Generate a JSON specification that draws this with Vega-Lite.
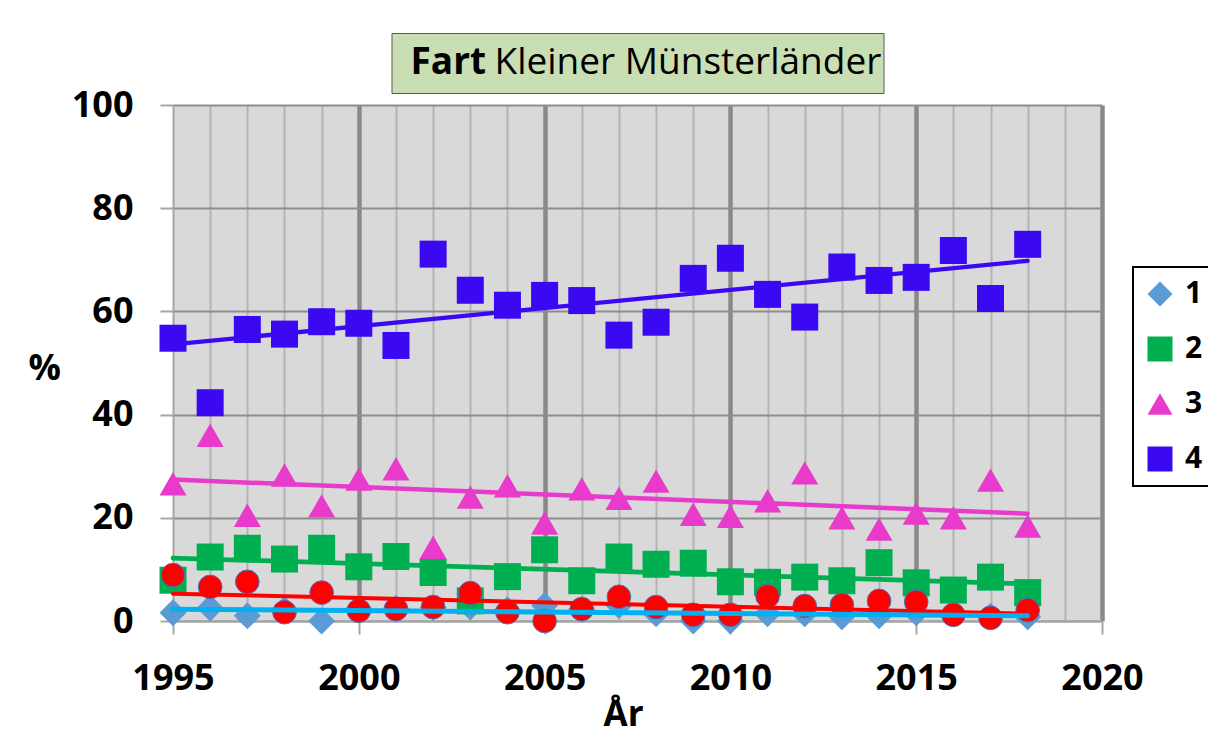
{
  "$schema": "https://vega.github.io/schema/vega-lite/v6.json",
  "background": "white",
  "padding": {"left": 28, "top": 32, "right": 0, "bottom": 0},
  "autosize": {"type": "pad"},
  "bounds": "flush",
  "spacing": 12,
  "center": true,
  "config": {"font": "Open Sans", "view": {"stroke": null}, "legend": {"strokeWidth": 2}},
  "datasets": {
    "pts": [
      {"serie": "1", "year": 1995, "v": 1.6}, {"serie": "1", "year": 1996, "v": 2.5}, {"serie": "1", "year": 1997, "v": 1.0}, {"serie": "1", "year": 1998, "v": 2.2},
      {"serie": "1", "year": 1999, "v": 0.0}, {"serie": "1", "year": 2000, "v": 2.4}, {"serie": "1", "year": 2001, "v": 2.4}, {"serie": "1", "year": 2002, "v": 2.6},
      {"serie": "1", "year": 2003, "v": 2.7}, {"serie": "1", "year": 2004, "v": 2.2}, {"serie": "1", "year": 2005, "v": 3.0}, {"serie": "1", "year": 2006, "v": 2.3},
      {"serie": "1", "year": 2007, "v": 3.0}, {"serie": "1", "year": 2008, "v": 1.4}, {"serie": "1", "year": 2009, "v": 0.0}, {"serie": "1", "year": 2010, "v": 0.0},
      {"serie": "1", "year": 2011, "v": 1.4}, {"serie": "1", "year": 2012, "v": 1.4}, {"serie": "1", "year": 2013, "v": 0.8}, {"serie": "1", "year": 2014, "v": 1.0},
      {"serie": "1", "year": 2015, "v": 1.6}, {"serie": "1", "year": 2016, "v": 1.4}, {"serie": "1", "year": 2017, "v": 0.9}, {"serie": "1", "year": 2018, "v": 0.8},
      {"serie": "2", "year": 1995, "v": 7.9}, {"serie": "2", "year": 1996, "v": 12.4}, {"serie": "2", "year": 1997, "v": 14.1}, {"serie": "2", "year": 1998, "v": 12.0},
      {"serie": "2", "year": 1999, "v": 14.1}, {"serie": "2", "year": 2000, "v": 10.5}, {"serie": "2", "year": 2001, "v": 12.5}, {"serie": "2", "year": 2002, "v": 9.4},
      {"serie": "2", "year": 2003, "v": 3.9}, {"serie": "2", "year": 2004, "v": 8.6}, {"serie": "2", "year": 2005, "v": 13.8}, {"serie": "2", "year": 2006, "v": 7.8},
      {"serie": "2", "year": 2007, "v": 12.4}, {"serie": "2", "year": 2008, "v": 11.0}, {"serie": "2", "year": 2009, "v": 11.2}, {"serie": "2", "year": 2010, "v": 7.6},
      {"serie": "2", "year": 2011, "v": 7.5}, {"serie": "2", "year": 2012, "v": 8.5}, {"serie": "2", "year": 2013, "v": 7.8}, {"serie": "2", "year": 2014, "v": 11.3},
      {"serie": "2", "year": 2015, "v": 7.4}, {"serie": "2", "year": 2016, "v": 6.0}, {"serie": "2", "year": 2017, "v": 8.5}, {"serie": "2", "year": 2018, "v": 5.5},
      {"serie": "3", "year": 1995, "v": 26.6}, {"serie": "3", "year": 1996, "v": 36.0}, {"serie": "3", "year": 1997, "v": 20.5}, {"serie": "3", "year": 1998, "v": 28.3},
      {"serie": "3", "year": 1999, "v": 22.3}, {"serie": "3", "year": 2000, "v": 27.5}, {"serie": "3", "year": 2001, "v": 29.5}, {"serie": "3", "year": 2002, "v": 14.3},
      {"serie": "3", "year": 2003, "v": 24.0}, {"serie": "3", "year": 2004, "v": 26.2}, {"serie": "3", "year": 2005, "v": 19.0}, {"serie": "3", "year": 2006, "v": 25.6},
      {"serie": "3", "year": 2007, "v": 23.8}, {"serie": "3", "year": 2008, "v": 27.1}, {"serie": "3", "year": 2009, "v": 20.7}, {"serie": "3", "year": 2010, "v": 20.3},
      {"serie": "3", "year": 2011, "v": 23.3}, {"serie": "3", "year": 2012, "v": 28.7}, {"serie": "3", "year": 2013, "v": 20.0}, {"serie": "3", "year": 2014, "v": 17.8},
      {"serie": "3", "year": 2015, "v": 20.9}, {"serie": "3", "year": 2016, "v": 20.0}, {"serie": "3", "year": 2017, "v": 27.3}, {"serie": "3", "year": 2018, "v": 18.4},
      {"serie": "4", "year": 1995, "v": 54.8}, {"serie": "4", "year": 1996, "v": 42.3}, {"serie": "4", "year": 1997, "v": 56.5}, {"serie": "4", "year": 1998, "v": 55.6},
      {"serie": "4", "year": 1999, "v": 58.0}, {"serie": "4", "year": 2000, "v": 57.7}, {"serie": "4", "year": 2001, "v": 53.4}, {"serie": "4", "year": 2002, "v": 71.1},
      {"serie": "4", "year": 2003, "v": 64.1}, {"serie": "4", "year": 2004, "v": 61.2}, {"serie": "4", "year": 2005, "v": 63.1}, {"serie": "4", "year": 2006, "v": 62.1},
      {"serie": "4", "year": 2007, "v": 55.4}, {"serie": "4", "year": 2008, "v": 57.9}, {"serie": "4", "year": 2009, "v": 66.4}, {"serie": "4", "year": 2010, "v": 70.3},
      {"serie": "4", "year": 2011, "v": 63.3}, {"serie": "4", "year": 2012, "v": 58.9}, {"serie": "4", "year": 2013, "v": 68.6}, {"serie": "4", "year": 2014, "v": 66.0},
      {"serie": "4", "year": 2015, "v": 66.6}, {"serie": "4", "year": 2016, "v": 71.8}, {"serie": "4", "year": 2017, "v": 62.5}, {"serie": "4", "year": 2018, "v": 73.0},
      {"serie": "5", "year": 1995, "v": 8.9}, {"serie": "5", "year": 1996, "v": 6.6}, {"serie": "5", "year": 1997, "v": 7.6}, {"serie": "5", "year": 1998, "v": 1.7},
      {"serie": "5", "year": 1999, "v": 5.5}, {"serie": "5", "year": 2000, "v": 2.0}, {"serie": "5", "year": 2001, "v": 2.3}, {"serie": "5", "year": 2002, "v": 2.7},
      {"serie": "5", "year": 2003, "v": 5.4}, {"serie": "5", "year": 2004, "v": 1.7}, {"serie": "5", "year": 2005, "v": 0.0}, {"serie": "5", "year": 2006, "v": 2.3},
      {"serie": "5", "year": 2007, "v": 4.7}, {"serie": "5", "year": 2008, "v": 2.7}, {"serie": "5", "year": 2009, "v": 1.2}, {"serie": "5", "year": 2010, "v": 1.2},
      {"serie": "5", "year": 2011, "v": 4.8}, {"serie": "5", "year": 2012, "v": 2.9}, {"serie": "5", "year": 2013, "v": 3.1}, {"serie": "5", "year": 2014, "v": 3.9},
      {"serie": "5", "year": 2015, "v": 3.7}, {"serie": "5", "year": 2016, "v": 1.2}, {"serie": "5", "year": 2017, "v": 0.6}, {"serie": "5", "year": 2018, "v": 2.1}
    ],
    "trends": [
      {"serie": "4", "year": 1995, "v": 53.6}, {"serie": "4", "year": 2018, "v": 69.8},
      {"serie": "3", "year": 1995, "v": 27.4}, {"serie": "3", "year": 2018, "v": 20.8},
      {"serie": "2", "year": 1995, "v": 12.2}, {"serie": "2", "year": 2018, "v": 7.2},
      {"serie": "5", "year": 1995, "v": 5.3}, {"serie": "5", "year": 2018, "v": 1.4},
      {"serie": "1", "year": 1995, "v": 2.3}, {"serie": "1", "year": 2018, "v": 1.0}
    ]
  },
  "vconcat": [
    {
      "width": 492,
      "height": 60,
      "view": {"fill": "#C9DFB3", "stroke": "#595959", "strokeWidth": 1},
      "layer": [
        {
          "data": {"values": [{"t": "Fart"}]},
          "mark": {"type": "text", "align": "left", "baseline": "middle", "dx": -227, "fontSize": 37, "fontWeight": "bold", "color": "black"},
          "encoding": {"text": {"field": "t"}}
        },
        {
          "data": {"values": [{"t": "Kleiner Münsterländer"}]},
          "mark": {"type": "text", "align": "left", "baseline": "middle", "dx": -143, "fontSize": 37, "fontWeight": "normal", "color": "black"},
          "encoding": {"text": {"field": "t"}}
        }
      ]
    },
    {
      "width": 929,
      "height": 516,
      "view": {"fill": "#D9D9D9", "stroke": null},
      "encoding": {
        "x": {
          "field": "year", "type": "quantitative",
          "scale": {"domain": [1995, 2020], "nice": false, "zero": false},
          "axis": {
            "values": [1995, 1996, 1997, 1998, 1999, 2000, 2001, 2002, 2003, 2004, 2005, 2006, 2007, 2008, 2009, 2010, 2011, 2012, 2013, 2014, 2015, 2016, 2017, 2018, 2019, 2020],
            "format": "d",
            "labelExpr": "datum.value % 5 === 0 ? datum.label : ''",
            "labelFontSize": 36, "labelFontWeight": "bold", "labelColor": "black", "labelPadding": 27,
            "labelFlush": false, "labelOverlap": false, "labelBound": false,
            "tickSize": 13, "tickColor": "#A6A6A6", "tickWidth": 2,
            "tickOpacity": {"condition": {"test": "datum.value % 5 === 0", "value": 1}, "value": 0},
            "domainColor": "#A6A6A6", "domainWidth": 2,
            "grid": true,
            "gridColor": {"condition": {"test": "datum.value % 5 === 0", "value": "#898989"}, "value": "#B3B3B3"},
            "gridWidth": {"condition": {"test": "datum.value % 5 === 0", "value": 4.5}, "value": 2},
            "gridOpacity": {"condition": {"test": "datum.value === 1995", "value": 0}, "value": 1},
            "title": "År", "titleFontSize": 35, "titleFontWeight": "bold", "titleColor": "black",
            "titleX": 450, "titleY": 104, "titleAlign": "center", "titleBaseline": "alphabetic"
          }
        },
        "y": {
          "field": "v", "type": "quantitative",
          "scale": {"domain": [0, 100], "nice": false},
          "axis": {
            "values": [0, 20, 40, 60, 80, 100],
            "labelFontSize": 36, "labelFontWeight": "bold", "labelColor": "black", "labelPadding": 27,
            "labelFlush": false, "labelOverlap": false,
            "tickSize": 13, "tickColor": "#A6A6A6", "tickWidth": 2,
            "domainColor": "#A6A6A6", "domainWidth": 2,
            "grid": true, "gridColor": "#8E8E8E", "gridWidth": 2,
            "title": "%", "titleAngle": 0, "titleX": -145, "titleY": 263, "titleAlign": "left", "titleBaseline": "middle",
            "titleFontSize": 36, "titleFontWeight": "bold", "titleColor": "black"
          }
        }
      },
      "layer": [
        {
          "data": {"name": "pts"},
          "transform": [{"filter": "datum.serie != '5'"}],
          "mark": {"type": "point", "filled": true, "opacity": 1, "size": 729, "strokeWidth": 0},
          "encoding": {
            "color": {
              "field": "serie", "type": "nominal",
              "scale": {"domain": ["1", "2", "3", "4"], "range": ["#5B9BD5", "#00B050", "#E83BCB", "#3B08F2"]},
              "legend": {
                "title": null, "orient": "none", "legendX": 960, "legendY": 234,
                "symbolSize": 625, "labelFontSize": 30, "labelFontWeight": "bold", "labelColor": "black",
                "padding": 12, "rowPadding": 25, "strokeColor": "black", "fillColor": "white",
                "labelOffset": 10, "symbolStrokeWidth": 0
              }
            },
            "shape": {
              "field": "serie", "type": "nominal",
              "scale": {"domain": ["1", "2", "3", "4"], "range": ["diamond", "square", "triangle-up", "square"]},
              "legend": {
                "title": null, "orient": "none", "legendX": 960, "legendY": 234,
                "symbolSize": 625, "labelFontSize": 30, "labelFontWeight": "bold", "labelColor": "black",
                "padding": 12, "rowPadding": 25, "strokeColor": "black", "fillColor": "white",
                "labelOffset": 10, "symbolStrokeWidth": 0
              }
            }
          }
        },
        {
          "data": {"name": "pts"},
          "transform": [{"filter": "datum.serie == '5'"}],
          "mark": {"type": "circle", "size": 560, "color": "#FF0000", "opacity": 1, "stroke": "#4472C4", "strokeWidth": 1}
        },
        {
          "data": {"name": "trends"},
          "mark": {"type": "line", "strokeCap": "round"},
          "encoding": {
            "stroke": {
              "field": "serie", "type": "nominal",
              "scale": {"domain": ["1", "2", "3", "4", "5"], "range": ["#00B0F0", "#00B050", "#E83BCB", "#3B08F2", "#FF0000"]},
              "legend": null
            },
            "strokeWidth": {
              "field": "serie", "type": "nominal",
              "scale": {"domain": ["1", "2", "3", "4", "5"], "range": [5, 4, 3.5, 4, 5]},
              "legend": null
            }
          }
        }
      ]
    }
  ]
}
